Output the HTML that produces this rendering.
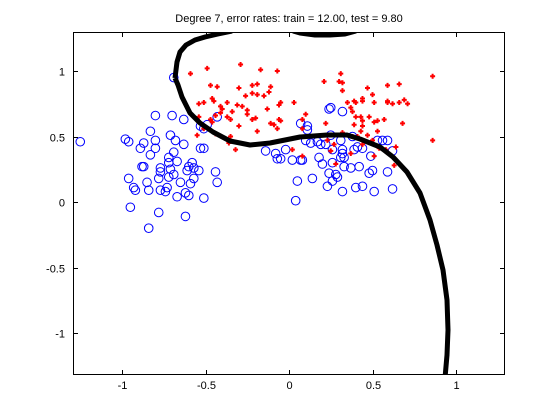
<!DOCTYPE html>
<html><head><meta charset="utf-8"><style>
body{margin:0;background:#fff;}
svg{display:block;font-family:"Liberation Sans",sans-serif;}
</style></head><body>
<svg id="chart" width="560" height="420" viewBox="0 0 560 420">
<rect x="0" y="0" width="560" height="420" fill="#fff"/>
<text x="289" y="22" font-size="11" text-anchor="middle">Degree 7, error rates: train = 12.00, test = 9.80</text>
<g id="pts"></g>
<g id="axes"></g>
</svg>
<script>
const xTicks=[-1,-0.5,0,0.5,1];
const xTickLabels=["-1","-0.5","0","0.5","1"];
const yTicks=[-1,-0.5,0,0.5,1];
const yTickLabels=["-1","-0.5","0","0.5","1"];
const blueX=[-1.25,-0.98,-0.96,-0.80,-0.70,-0.63,-0.83,-0.71,-0.68,-0.63,-0.87,-0.80,-0.80,-0.89,-0.83,-0.69,-0.72,-0.67,-0.72,-0.88,-0.87,-0.77,-0.71,-0.77,-0.60,-0.58,-0.57,-0.54,-0.61,-0.44,-0.72,-0.69,-0.78,-0.96,-0.85,-0.65,-0.59,-0.57,-0.43,-0.93,-0.92,-0.84,-0.77,-0.73,-0.74,-0.62,-0.60,-0.67,-0.51,-0.95,-0.78,-0.62,-0.84,-0.69,-0.53,-0.51,-0.49,-0.43,-0.53,-0.51,-0.14,-0.08,-0.07,-0.02,
0.24,0.25,0.32,0.07,0.11,0.11,0.25,0.10,0.13,0.17,0.19,0.22,0.31,0.38,0.41,0.44,0.53,0.56,0.59,0.62,0.26,0.32,0.32,0.31,0.33,0.49,0.39,-0.05,0.02,0.07,0.08,0.18,0.20,0.26,0.33,0.37,0.42,0.48,0.50,0.59,0.24,0.28,0.29,0.05,0.14,0.26,0.23,0.32,0.40,0.44,0.51,0.62,0.04];
const blueY=[0.46,0.48,0.46,0.66,0.66,0.63,0.54,0.51,0.47,0.44,0.45,0.47,0.41,0.41,0.36,0.38,0.34,0.31,0.30,0.27,0.27,0.26,0.25,0.23,0.27,0.30,0.26,0.24,0.24,0.23,0.19,0.21,0.18,0.18,0.15,0.15,0.14,0.18,0.15,0.11,0.09,0.09,0.09,0.11,0.08,0.07,0.05,0.04,0.03,-0.04,-0.08,-0.11,-0.20,0.95,0.58,0.56,0.59,0.65,0.41,0.41,0.39,0.37,0.33,0.40,
0.71,0.72,0.69,0.60,0.58,0.55,0.51,0.47,0.45,0.46,0.44,0.44,0.47,0.50,0.42,0.41,0.47,0.47,0.47,0.39,0.40,0.40,0.37,0.34,0.34,0.35,0.40,0.33,0.32,0.32,0.32,0.34,0.29,0.30,0.27,0.26,0.27,0.22,0.24,0.23,0.22,0.21,0.19,0.16,0.18,0.16,0.12,0.08,0.11,0.12,0.08,0.10,0.01];
const redX=[-0.59,-0.49,-0.29,-0.17,-0.07,-0.47,-0.43,-0.30,-0.22,-0.19,-0.11,-0.12,-0.22,-0.26,-0.19,-0.15,-0.46,-0.45,-0.51,-0.54,-0.41,-0.37,-0.31,-0.28,-0.06,-0.40,-0.34,-0.25,-0.13,-0.44,-0.41,-0.37,-0.35,-0.25,-0.22,-0.20,-0.06,-0.54,-0.47,-0.46,-0.30,-0.11,-0.09,-0.07,-0.19,-0.51,-0.44,-0.55,-0.35,-0.36,-0.32,
0.31,0.21,0.30,0.32,0.32,0.86,0.59,0.66,0.47,0.50,0.44,0.44,0.39,0.40,0.35,0.51,0.59,0.59,0.62,0.66,0.69,0.71,0.03,-0.05,0.10,-0.05,0.08,0.22,0.37,0.38,0.40,0.43,0.48,0.44,0.51,0.53,0.57,0.68,0.39,0.44,0.43,0.53,0.32,0.41,0.47,0.50,0.08,0.86,0.02,0.23,0.27,0.25,0.38,0.44,0.54,0.58,0.64,0.37,0.51,0.63,0.28,0.08];
const redY=[0.98,1.02,1.05,1.01,1.00,0.89,0.88,0.87,0.89,0.90,0.88,0.84,0.83,0.81,0.82,0.81,0.79,0.77,0.76,0.75,0.73,0.76,0.74,0.73,0.74,0.71,0.69,0.70,0.71,0.66,0.68,0.65,0.63,0.67,0.63,0.64,0.63,0.65,0.63,0.61,0.58,0.60,0.59,0.56,0.54,0.56,0.52,0.51,0.50,0.45,0.40,
0.98,0.92,0.92,0.91,0.85,0.96,0.89,0.90,0.87,0.82,0.79,0.77,0.77,0.76,0.76,0.76,0.77,0.76,0.75,0.76,0.78,0.75,0.76,0.76,0.67,0.62,0.63,0.60,0.72,0.69,0.65,0.65,0.65,0.62,0.61,0.62,0.63,0.60,0.59,0.58,0.54,0.54,0.53,0.50,0.51,0.47,0.56,0.47,0.40,0.47,0.44,0.39,0.50,0.44,0.41,0.40,0.42,0.37,0.35,0.28,0.29,0.35];
const L=73,R=505,T=32,B=375;
function sx(v){return 289+v*167;}
function sy(v){return 202-v*131;}
const NS="http://www.w3.org/2000/svg";
const svg=document.getElementById('chart'),pts=document.getElementById('pts'),ax=document.getElementById('axes');
function mk(tag,at,parent){const e=document.createElementNS(NS,tag);for(const k in at)e.setAttribute(k,at[k]);parent.appendChild(e);return e;}
// clip
const defs=mk('defs',{},svg);const cp=mk('clipPath',{id:'cp'},defs);mk('rect',{x:L,y:T,width:R-L,height:B-T},cp);
pts.setAttribute('clip-path','url(#cp)');
for(let i=0;i<blueX.length;i++){
 const c=mk('circle',{cx:sx(blueX[i]),cy:sy(blueY[i]),r:4.3,fill:'none',stroke:'#0000ff','stroke-width':1},pts);
 
 
}
for(let i=0;i<redX.length;i++){
 const x=sx(redX[i]),y=sy(redY[i]);
 const p=mk('path',{d:`M${x-2.5},${y}H${x+2.5}M${x},${y-2.5}V${y+2.5}`,stroke:'#ff0000','stroke-width':2,fill:'none'},pts);
 
 
}
// decision boundary (pixel traced)
const b1=mk('path',{d:'M175,78 L177,62 L180,52 L186,45 L195,40 L205,37 L218,34 L232,31',fill:'none',stroke:'#000','stroke-width':5,'stroke-linejoin':'round'},pts);


const b2=mk('path',{d:'M293,31 L300,33 L315,35 L330,35 L345,34 L356,31',fill:'none',stroke:'#000','stroke-width':5,'stroke-linejoin':'round'},pts);


const b3=mk('path',{d:'M175,78 L178,85 L182,97 L190,113 L200,123 L213,132 L230,141 L250,145 L270,143 L290,139 L300,137 L327,135 L347,135 L360,139 L380,147 L393,157 L407,172 L420,193 L430,220 L437,245 L443,270 L447,300 L448,330 L447,355 L445,378',fill:'none',stroke:'#000','stroke-width':5,'stroke-linejoin':'round'},pts);


// axes box
const box=mk('rect',{x:L+0.5,y:T+0.5,width:R-L-1,height:B-T-1,fill:'none',stroke:'#000','stroke-width':1},ax);


for(let i=0;i<xTicks.length;i++){
 const x=Math.round(sx(xTicks[i]))+0.5;
 mk('path',{d:`M${x},${B}V${B-5}M${x},${T}V${T+5}`,stroke:'#000','stroke-width':1},ax);
 const t=mk('text',{x:x,y:B+14,'font-size':11,'text-anchor':'middle'},ax);t.textContent=xTickLabels[i];
 
 
}
for(let i=0;i<yTicks.length;i++){
 const y=Math.round(sy(yTicks[i]))+0.5;
 mk('path',{d:`M${L},${y}H${L+5}M${R},${y}H${R-5}`,stroke:'#000','stroke-width':1},ax);
 const t=mk('text',{x:L-8,y:y+4,'font-size':11,'text-anchor':'end'},ax);t.textContent=yTickLabels[i];
 
 
}
</script>
</body></html>
